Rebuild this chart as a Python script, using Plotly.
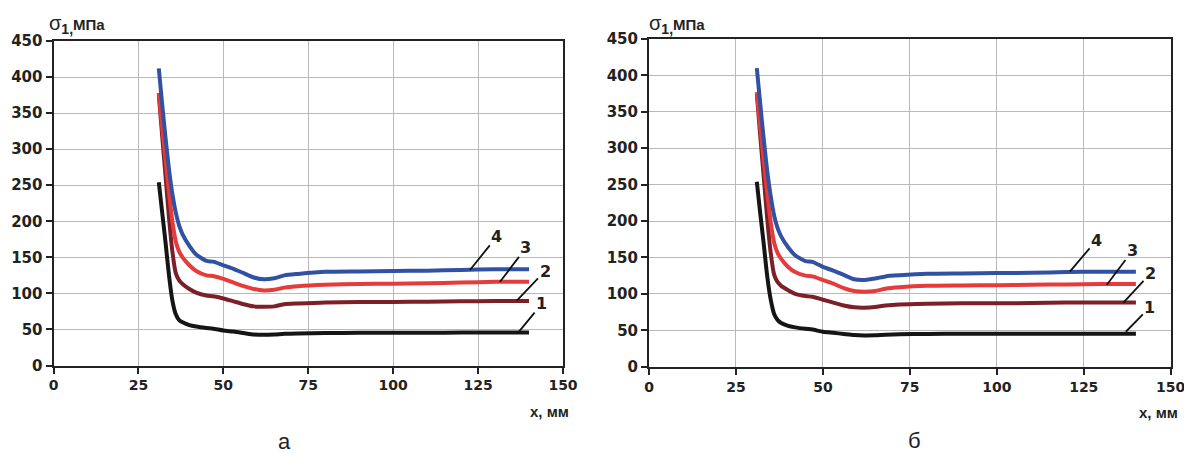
import plotly.graph_objects as go

# ---------------- data ----------------
x_pts = [31, 32, 33, 34, 35, 36, 37, 38, 40, 42, 45, 47, 50, 53, 56, 59, 62, 65, 68, 72, 80, 90, 100, 110, 120, 130, 140]

# panel а
a_curve4 = [412, 362, 315, 272, 238, 212, 194, 182, 166, 154, 145, 144, 139, 134, 128, 122, 119.5, 121, 125, 127, 130, 130.5, 131, 131.5, 132.5, 133.5, 133.5]
a_curve3 = [378, 330, 285, 240, 200, 172, 158, 150, 139, 131, 125, 124, 120, 115, 110, 106, 104, 105, 108, 110, 112, 113, 113.5, 114, 115, 116, 116]
a_curve2 = [375, 318, 262, 205, 158, 128, 118, 113, 106, 101, 97, 96, 93, 89, 85, 82, 81.5, 82, 85, 86, 87.5, 88, 88, 88.5, 89, 89.5, 89.5]
a_curve1 = [254, 212, 170, 125, 90, 71, 63, 60, 56, 54, 52, 51, 48.5, 47, 45, 43, 42.5, 43, 44, 44.5, 45, 45.3, 45.5, 45.5, 45.6, 45.6, 45.6]

# panel б
b_curve4 = [410, 360, 312, 268, 234, 207, 190, 179, 164, 153, 145, 144, 137, 132, 126, 120, 119, 121, 124, 125.5, 127.5, 128, 128.5, 129, 130, 130.5, 130.5]
b_curve3 = [377, 328, 282, 238, 198, 170, 156, 148, 137, 130, 125, 124, 119, 114, 108, 104, 103, 104, 107, 109, 111, 111.5, 112, 112.5, 113, 113.6, 113.6]
b_curve2 = [375, 316, 260, 203, 156, 126, 116, 111, 105, 100, 97, 96, 92, 88, 84, 81.5, 81, 82, 84, 85.5, 86.5, 87, 87, 87.5, 88, 88, 88]
b_curve1 = [254, 210, 168, 124, 92, 72, 64, 60, 56, 54, 52, 51, 48, 46.5, 45, 43.5, 43, 43.2, 44, 44.5, 45, 45.2, 45.3, 45.3, 45.3, 45.3, 45.3]

curve_names = ["1", "2", "3", "4"]
x_ticks = [0, 25, 50, 75, 100, 125, 150]
y_ticks = [0, 50, 100, 150, 200, 250, 300, 350, 400, 450]

# label anchors: (point on curve x, y, text x, text y)
a_label_tip_x = [136.8, 136.4, 131.4, 122.6]
a_label_tip_y = [45.5, 89.9, 115.8, 132.4]
a_label_txt_x = [143.7, 144.7, 139.1, 130.5]
a_label_txt_y = [85.3, 131.0, 163.4, 178.6]

b_label_tip_x = [137.1, 136.4, 131.6, 121.0]
b_label_tip_y = [48.0, 87.9, 112.2, 130.5]
b_label_txt_x = [144.0, 144.2, 139.0, 128.7]
b_label_txt_y = [81.6, 128.3, 159.3, 173.9]

# ---------------- styling ----------------
colors = ["#151515", "#7b2026", "#e53b3b", "#3152a3"]
TICKFONT_Y = dict(family="DejaVu Sans", size=15, color="#222222")
TICKFONT_X = dict(family="DejaVu Sans", size=14, color="#222222")

fig = go.Figure()

panels = [
    ("x", "y", [a_curve1, a_curve2, a_curve3, a_curve4],
     (a_label_tip_x, a_label_tip_y, a_label_txt_x, a_label_txt_y)),
    ("x2", "y2", [b_curve1, b_curve2, b_curve3, b_curve4],
     (b_label_tip_x, b_label_tip_y, b_label_txt_x, b_label_txt_y)),
]

for xa, ya, curves, labels in panels:
    for name, ys, col in zip(curve_names, curves, colors):
        fig.add_trace(go.Scatter(
            x=x_pts, y=ys, mode="lines", name=name, xaxis=xa, yaxis=ya,
            line=dict(color=col, width=4, shape="spline", smoothing=0.6),
            showlegend=False, hoverinfo="skip"))
    tx, ty, lx, ly = labels
    for name, a, b, c, d in zip(curve_names, tx, ty, lx, ly):
        fig.add_annotation(
            x=a, y=b, ax=c, ay=d, xref=xa, yref=ya, axref=xa, ayref=ya,
            text="<b>" + name + "</b>", showarrow=True, arrowhead=0,
            arrowwidth=1.8, arrowcolor="#111111", standoff=0,
            font=dict(family="DejaVu Sans", size=16, color="#222222"))

axis_common = dict(
    showline=True, linecolor="#222222", linewidth=2, mirror=True,
    showgrid=True, gridcolor="#b9b9b9", gridwidth=1, zeroline=False,
    ticks="outside", ticklen=6, tickwidth=2, tickcolor="#222222",
    automargin=False, ticklabeloverflow="allow",
)

fig.update_layout(
    width=1184, height=453,
    margin=dict(l=0, r=0, t=0, b=0, autoexpand=False),
    paper_bgcolor="white", plot_bgcolor="white",
    xaxis=dict(domain=[53.5 / 1184, 563 / 1184], range=[0, 150], tickvals=x_ticks,
               ticktext=["<b>%d</b>" % v for v in x_ticks], tickfont=TICKFONT_X,
               anchor="y", **axis_common),
    yaxis=dict(domain=[1 - 365.5 / 453, 1 - 41 / 453], range=[0, 450], tickvals=y_ticks,
               ticktext=["<b>%d</b>" % v for v in y_ticks], tickfont=TICKFONT_Y,
               anchor="x", **axis_common),
    xaxis2=dict(domain=[649 / 1184, 1170.7 / 1184], range=[0, 150], tickvals=x_ticks,
                ticktext=["<b>%d</b>" % v for v in x_ticks], tickfont=TICKFONT_X,
                anchor="y2", **axis_common),
    yaxis2=dict(domain=[1 - 366.7 / 453, 1 - 39 / 453], range=[0, 450], tickvals=y_ticks,
                ticktext=["<b>%d</b>" % v for v in y_ticks], tickfont=TICKFONT_Y,
                anchor="x2", **axis_common),
)

# axis titles and panel letters
ytitle = "σ<sub><b>1,</b></sub><b><span style='font-size:15px'>МПа</span></b>"
for xp in [47 / 1184, 647 / 1184]:
    fig.add_annotation(x=xp, y=1 - 25 / 453, xref="paper", yref="paper",
                       text=ytitle, showarrow=False, xanchor="left", yanchor="middle",
                       font=dict(family="Liberation Sans", size=20, color="#222222"))

fig.add_annotation(x=571 / 1184, y=1 - 411 / 453, xref="paper", yref="paper",
                   text="<b>x, мм</b>", showarrow=False, xanchor="right", yanchor="middle",
                   font=dict(family="Liberation Sans", size=15, color="#222222"))
fig.add_annotation(x=1137 / 1184, y=1 - 412 / 453, xref="paper", yref="paper",
                   text="<b>x, мм</b>", showarrow=False, xanchor="left", yanchor="middle",
                   font=dict(family="Liberation Sans", size=15, color="#222222"))

fig.add_annotation(x=284 / 1184, y=1 - 441 / 453, xref="paper", yref="paper",
                   text="а", showarrow=False, xanchor="center", yanchor="middle",
                   font=dict(family="Liberation Sans", size=22, color="#222222"))
fig.add_annotation(x=914 / 1184, y=1 - 440 / 453, xref="paper", yref="paper",
                   text="б", showarrow=False, xanchor="center", yanchor="middle",
                   font=dict(family="Liberation Sans", size=22, color="#222222"))

fig.write_html("out.html", config={"displayModeBar": False},
               post_script="document.body.style.margin='0px';")
